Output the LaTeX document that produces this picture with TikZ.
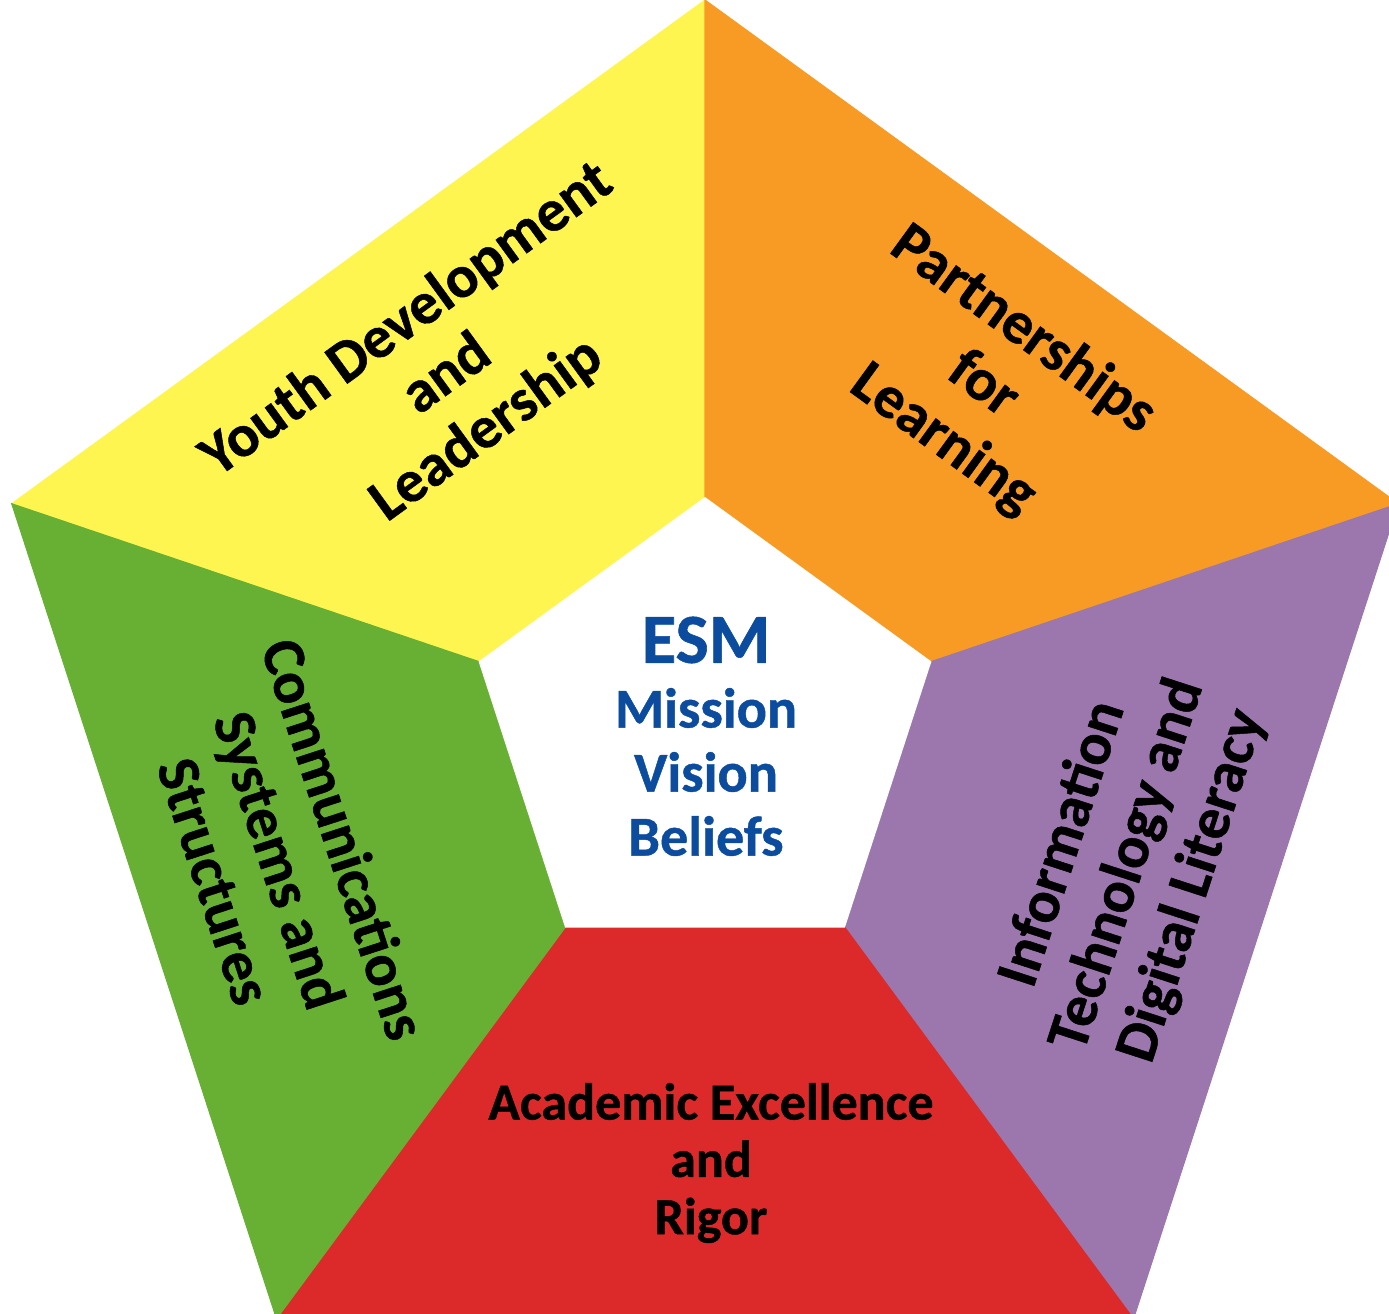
\documentclass[tikz,border=0pt]{standalone}
\usepackage{fontspec}
\setmainfont{Carlito}[BoldFeatures={FakeBold=0.8}]
\definecolor{cyellow}{HTML}{FFF550}
\definecolor{corange}{HTML}{F89B24}
\definecolor{cpurple}{HTML}{9B77AD}
\definecolor{cred}{HTML}{DC2A2B}
\definecolor{cgreen}{HTML}{67B034}
\definecolor{cblue}{HTML}{0B4C9F}
\begin{document}
\begin{tikzpicture}[x=0.01cm,y=-0.01cm,
  seg/.style={fill=#1,draw=#1,line width=0.3pt,line join=miter},
  lbl/.style={font=\bfseries\fontsize{17}{19.3}\selectfont,align=center,text=black,inner sep=0pt},
  redlbl/.style={font=\bfseries\fontsize{14.8}{16.3}\selectfont,align=center,text=black,inner sep=0pt},
  esmlbl/.style={font=\bfseries\fontsize{20}{24}\selectfont,align=center,text=cblue,inner sep=0pt},
  ctrlbl/.style={font=\bfseries\fontsize{16}{18.2}\selectfont,align=center,text=cblue,inner sep=0pt}]
\useasboundingbox (0,0) rectangle (1389,1313);
\clip (0,0) rectangle (1389,1313);
% outer pentagon
\coordinate (O1) at (705,0);
\coordinate (O2) at (1398.3,503.7);
\coordinate (O3) at (1133.5,1318.8);
\coordinate (O4) at (276.5,1318.8);
\coordinate (O5) at (11.7,503.7);
% inner pentagon
\coordinate (I1) at (705,497);
\coordinate (I2) at (931.4,661.5);
\coordinate (I3) at (844.9,927.5);
\coordinate (I4) at (565.1,927.5);
\coordinate (I5) at (478.6,661.5);
% segments
\path[seg=cyellow] (O1)--(O5)--(I5)--(I1)--cycle;
\path[seg=corange] (O1)--(O2)--(I2)--(I1)--cycle;
\path[seg=cpurple] (O2)--(O3)--(I3)--(I2)--cycle;
\path[seg=cred] (O3)--(O4)--(I4)--(I3)--cycle;
\path[seg=cgreen] (O4)--(O5)--(I5)--(I4)--cycle;
\path[fill=white] (I1)--(I2)--(I3)--(I4)--(I5)--cycle;
% labels
\node[lbl,rotate=36] (youth) at (447,375) {Youth Development\\and\\Leadership};
\node[lbl,rotate=-36] (partner) at (983,385) {Partnerships\\for\\Learning};
\node[lbl,rotate=72] (info) at (1128,865) {Information\\Technology and\\Digital Literacy};
\node[lbl,rotate=-72] (comm) at (280,860) {Communications\\Systems and\\Structures};
\node[redlbl] (acad) at (711,1163) {Academic Excellence\\and\\Rigor};
\node[esmlbl] (esm) at (706,640) {ESM};
\node[ctrlbl] (mvb) at (706,772) {Mission\\Vision\\Beliefs};
\end{tikzpicture}
\end{document}
